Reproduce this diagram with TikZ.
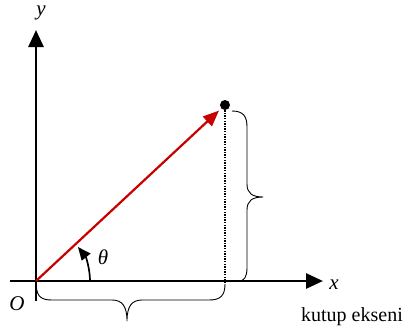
\documentclass[tikz,border=0pt]{standalone}
\usepackage{fontspec}
\setmainfont{Liberation Serif}
\usetikzlibrary{arrows.meta}
\definecolor{vecred}{RGB}{200,0,0}
\tikzset{
  axis/.style={line width=2.8pt,-{Triangle[length=17pt,width=15pt]}},
  vec/.style={vecred,line width=2.2pt,-{Triangle[length=16pt,width=13pt]}},
  bracepath/.style={line width=0.9pt,line join=round},
  lbl/.style={inner sep=0pt,font=\fontsize{21}{25}\selectfont\itshape},
  txt/.style={inner sep=0pt,font=\fontsize{20}{24}\selectfont}
}
\begin{document}
\begin{tikzpicture}[x=1pt,y=-1pt]
\useasboundingbox (0,0) rectangle (407,333);
\coordinate (O) at (36,281);
\coordinate (xs) at (10,281);
\coordinate (xe) at (323,281);
\coordinate (ys) at (36,301);
\coordinate (ye) at (36,30);
\coordinate (foot) at (225,283);
\node[circle,fill=black,inner sep=0pt,minimum size=10pt] (P) at (225,105) {};
% axes
\draw[axis] (xs) -- (xe);
\draw[axis] (ys) -- (ye);
% dotted projection
\draw[line width=1.3pt,dash pattern=on 1.3pt off 1.3pt] (P.center) -- (foot);
% vector
\draw[vec,shorten >=3pt] (O) -- (P);
% angle arc
\draw[line width=1.7pt,-{Triangle[length=13pt,width=11pt]}] (90,281) arc[start angle=0,end angle=-39,radius=54];
% bottom brace
\draw[bracepath] (O) .. controls (36,296) and (40,300) .. (52,300) -- (112,300)
  .. controls (122,300) and (127,306) .. (127,321)
  .. controls (127,306) and (132,300) .. (142,300) -- (209,300)
  .. controls (220,300) and (225,296) .. (225,284);
% right brace
\draw[bracepath] (232,111) .. controls (243,111) and (247,116) .. (247,127) -- (247,184)
  .. controls (247,193) and (252,197) .. (263,197)
  .. controls (252,197) and (247,201) .. (247,210) -- (247,268)
  .. controls (247,277) and (244,281) .. (239,281);
% labels
\node[lbl] (ylab) at (41,13) {y};
\node[lbl] (xlab) at (334,285) {x};
\node[lbl] (Olab) at (17,304) {O};
\node[lbl] (tlab) at (103,257) {θ};
\node[txt] (kut) at (352,317) {kutup ekseni};
\end{tikzpicture}
\end{document}
